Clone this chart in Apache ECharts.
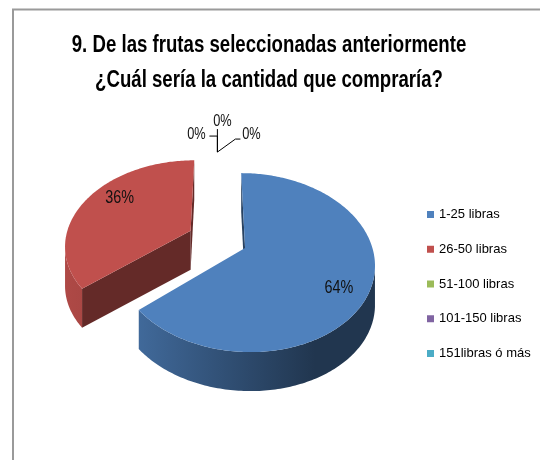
<!DOCTYPE html>
<html>
<head>
<meta charset="utf-8">
<script src="https://cdn.jsdelivr.net/npm/echarts@6/dist/echarts.min.js"></script>
<style>
  html, body { margin: 0; padding: 0; background: #fff; }
  #chart { width: 540px; height: 460px; }
</style>
</head>
<body>
<div id="chart"></div>
<script>
// Survey answers: share of respondents for each purchase quantity (%)
const categories = ['1-25 libras', '26-50 libras', '51-100 libras', '101-150 libras', '151libras ó más'];
const percents = [64, 36, 0, 0, 0];
const colors = ['#4F81BD', '#C0504D', '#9BBB59', '#8064A2', '#4BACC6'];
const titleLines = ['9. De las frutas seleccionadas anteriormente', '¿Cuál sería la cantidad que compraría?'];

const FONT = '"Liberation Sans", Arial, sans-serif';
const NARROW = 0.8;   // horizontal squeeze giving the condensed lettering

// Layout of the tilted, exploded pie (pixels / unit-radius fractions)
const view = {
  cx: 217.4, cy: 239.3,   // screen position of the pie centre
  rx: 125.3, ry: 84.3,    // projected radii
  persp: 0.16,            // perspective strength (front larger than back)
  depth: 39,              // thickness of the pie, px
  explode: 0.24,          // explosion distance as a fraction of the radius
  camZ: 6                 // viewer position in front of the pie
};

const total = percents.reduce((a, b) => a + b, 0);
const slices = [];
let acc = 0;
percents.forEach((v) => {
  const a0 = acc / total * Math.PI * 2;
  acc += v;
  const a1 = acc / total * Math.PI * 2;
  slices.push({ a0, a1, am: (a0 + a1) / 2 });
});

// unit direction on the pie plane, angle measured clockwise from 12 o'clock
function dir(a) { return [Math.sin(a), -Math.cos(a)]; }

// disk plane (x to the right, z toward the viewer) -> screen
function project(p) {
  const s = 1 / (1 - view.persp * p[1]);
  return [view.cx + view.rx * p[0] * s, view.cy + view.ry * p[1] * s];
}

function shade(hex, f) {
  const n = parseInt(hex.slice(1), 16);
  const r = Math.round(((n >> 16) & 255) * f);
  const g = Math.round(((n >> 8) & 255) * f);
  const b = Math.round((n & 255) * f);
  return 'rgb(' + r + ',' + g + ',' + b + ')';
}

function sideGradient(color) {
  const x0 = view.cx - view.rx * (1 + view.explode) * 1.05;
  const x1 = view.cx + view.rx * (1 + view.explode) * 1.05;
  return new echarts.graphic.LinearGradient(x0, 0, x1, 0, [
    { offset: 0, color: shade(color, 0.92) },
    { offset: 0.25, color: shade(color, 0.82) },
    { offset: 0.55, color: shade(color, 0.6) },
    { offset: 0.8, color: shade(color, 0.42) },
    { offset: 1, color: shade(color, 0.42) }
  ], true);
}

function label(text, x, y, size) {
  return {
    type: 'text', x, y, scaleX: NARROW,
    style: { text, x: 0, y: 0, align: 'center', verticalAlign: 'middle', font: size + 'px ' + FONT, fill: '#111' }
  };
}

// leader-line layout for the empty slices stacked at the top of the pie
const zeroLabelLayout = [
  { text: [-21, -17], line: [[0, 0], [0, -16], [-8, -16]] },
  { text: [5, -30], line: [[0, 0], [0, -23]] },
  { text: [34, -17], line: [[0, 0], [18, -13], [23, -13]] }
];

function buildSlice(i, value) {
  const s = slices[i];
  const color = colors[i];
  const D = view.depth;
  const d = dir(s.am);
  const o = [d[0] * view.explode, d[1] * view.explode];
  const children = [];

  if (value <= 0) {
    const zeroIdx = percents.slice(0, i).filter(v => v <= 0).length;
    const lay = zeroLabelLayout[zeroIdx % zeroLabelLayout.length];
    const anchor = project([o[0] + d[0], o[1] + d[1]]);
    children.push({
      type: 'polyline',
      shape: { points: lay.line.map(q => [anchor[0] + q[0], anchor[1] + q[1]]) },
      style: { stroke: '#000', lineWidth: 1, fill: null }
    });
    children.push(label(value + '%', anchor[0] + lay.text[0], anchor[1] + lay.text[1], 16));
    return { type: 'group', children };
  }

  const steps = Math.max(8, Math.ceil((s.a1 - s.a0) / (Math.PI / 180)));
  const rim = [];
  for (let k = 0; k <= steps; k++) {
    const a = s.a0 + (s.a1 - s.a0) * k / steps;
    const n = dir(a);
    const p = [o[0] + n[0], o[1] + n[1]];
    const vis = n[0] * (0 - p[0]) + n[1] * (view.camZ - p[1]);
    rim.push({ a, p, sc: project(p), vis: vis > 0 });
  }
  const vtx = project(o);

  // cut faces along the two radii
  if (value < total) {
    [[s.a0, -1], [s.a1, 1]].forEach(([a, sg]) => {
      const nrm = [sg * Math.cos(a), sg * Math.sin(a)];
      const vis = nrm[0] * (0 - o[0]) + nrm[1] * (view.camZ - o[1]);
      if (vis > 0) {
        const n = dir(a);
        const r = project([o[0] + n[0], o[1] + n[1]]);
        children.push({
          type: 'polygon',
          shape: { points: [vtx, r, [r[0], r[1] + D], [vtx[0], vtx[1] + D]] },
          style: { fill: shade(color, 0.52) }
        });
      }
    });
  }

  // curved outer wall, only where it faces the viewer
  const runs = [];
  let cur = null;
  rim.forEach(e => {
    if (e.vis) { if (!cur) { cur = []; runs.push(cur); } cur.push(e); }
    else cur = null;
  });
  runs.forEach(run => {
    if (run.length < 2) return;
    const pts = run.map(e => e.sc).concat(run.slice().reverse().map(e => [e.sc[0], e.sc[1] + D]));
    children.push({ type: 'polygon', shape: { points: pts }, style: { fill: sideGradient(color) } });
  });

  // top face
  children.push({
    type: 'polygon',
    shape: { points: [vtx].concat(rim.map(e => e.sc)) },
    style: { fill: color }
  });

  // percentage label, inside the rim at the slice's middle angle
  const mid = project([o[0] + d[0], o[1] + d[1]]);
  children.push(label(value + '%', mid[0] - Math.sign(d[0]) * 32, mid[1], 18));
  return { type: 'group', children };
}

// draw back slices first so nearer ones overlap them
const depthOrder = slices.map((s, i) => ({ i, z: dir(s.am)[1] * view.explode }))
  .sort((a, b) => a.z - b.z);
const zRank = [];
depthOrder.forEach((e, r) => { zRank[e.i] = r; });

const series = categories.map((name, i) => ({
  type: 'custom',
  name,
  coordinateSystem: 'none',
  z: 2 + zRank[i],
  itemStyle: { color: colors[i] },
  data: [[percents[i]]],
  renderItem: (params, api) => buildSlice(i, api.value(0))
}));

const titleGraphics = titleLines.map((line, k) => ({
  type: 'text',
  x: 269, y: 46 + k * 35,
  scaleX: 0.81,
  silent: true,
  style: { text: line, x: 0, y: 0, align: 'center', verticalAlign: 'middle', font: 'bold 23px ' + FONT, fill: '#000' }
}));

const chart = echarts.init(document.getElementById('chart'), null, { renderer: 'canvas' });
chart.setOption({
  animation: false,
  backgroundColor: '#fff',
  legend: {
    data: categories,
    orient: 'vertical',
    left: 422,
    top: 203,
    icon: 'rect',
    itemWidth: 7,
    itemHeight: 7,
    itemGap: 21.75,
    textStyle: { fontFamily: FONT, fontSize: 13, color: '#000' }
  },
  graphic: [{
    type: 'rect',
    shape: { x: 13, y: 9.5, width: 600, height: 500 },
    style: { fill: null, stroke: '#9a9a9a', lineWidth: 2 },
    silent: true
  }].concat(titleGraphics),
  series
});
</script>
</body>
</html>
